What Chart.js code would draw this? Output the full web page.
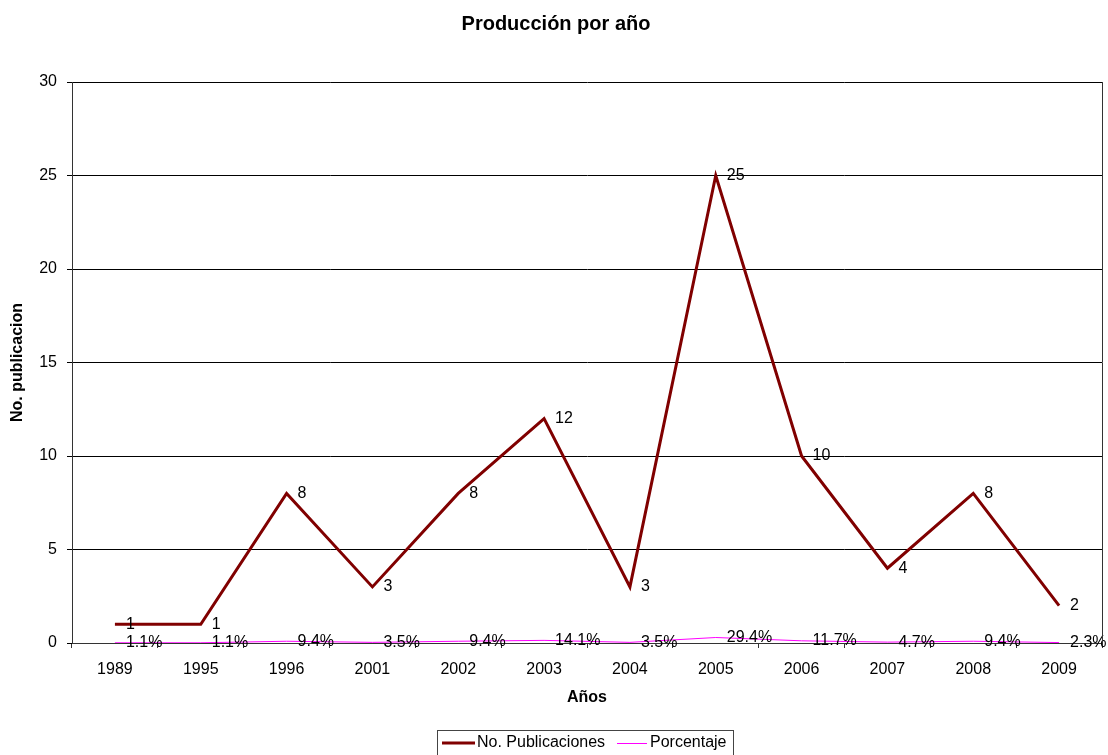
<!DOCTYPE html>
<html>
<head>
<meta charset="utf-8">
<title>Producción por año</title>
<script src="https://cdn.jsdelivr.net/npm/chart.js@4.4.1/dist/chart.umd.min.js"></script>
<style>
  html, body { margin: 0; padding: 0; background: #fff; }
  #wrap { width: 1108px; height: 755px; position: relative; }
</style>
</head>
<body>
<div id="wrap"><canvas id="grafico"></canvas></div>
<script>
// datos
const years = ['1989', '1995', '1996', '2001', '2002', '2003', '2004', '2005', '2006', '2007', '2008', '2009'];
const publicaciones = [1, 1, 8, 3, 8, 12, 3, 25, 10, 4, 8, 2];
const porcentaje = [0.011, 0.011, 0.094, 0.035, 0.094, 0.141, 0.035, 0.294, 0.117, 0.047, 0.094, 0.023];
const yTicks = [0, 5, 10, 15, 20, 25, 30];

const FONT = "'Liberation Sans', Arial, sans-serif";
const RED = '#800000';
const MAGENTA = '#ff00ff';

// etiquetas de datos a la derecha de cada punto
const dataLabels = {
    id: 'dataLabels',
    afterDatasetsDraw(chart) {
        const ctx = chart.ctx;
        ctx.save();
        ctx.font = '16px ' + FONT;
        ctx.fillStyle = '#000';
        ctx.textAlign = 'left';
        ctx.textBaseline = 'middle';
        chart.data.datasets.forEach((ds, i) => {
            const meta = chart.getDatasetMeta(i);
            meta.data.forEach((pt, j) => {
                const v = ds.data[j];
                const txt = i === 0 ? String(v) : (v * 100).toFixed(1) + '%';
                ctx.fillText(txt, pt.x + 11, pt.y);
            });
        });
        ctx.restore();
    }
};

// título, borde derecho y leyenda al estilo Excel
const decor = {
    id: 'decor',
    afterDraw(chart) {
        const ctx = chart.ctx;
        const area = chart.chartArea;
        ctx.save();
        ctx.strokeStyle = '#333';
        ctx.lineWidth = 1;
        ctx.beginPath();
        ctx.moveTo(Math.round(area.right) + 0.5, area.top);
        ctx.lineTo(Math.round(area.right) + 0.5, area.bottom);
        ctx.stroke();

        ctx.fillStyle = '#000';
        ctx.font = 'bold 20px ' + FONT;
        ctx.textAlign = 'center';
        ctx.textBaseline = 'middle';
        ctx.fillText('Producción por año', 556, 24);

        // leyenda
        ctx.strokeStyle = '#444';
        ctx.strokeRect(437.5, 730.5, 296, 30);
        ctx.font = '16px ' + FONT;
        ctx.textAlign = 'left';
        const ly = 743;
        ctx.strokeStyle = RED;
        ctx.lineWidth = 3;
        ctx.beginPath(); ctx.moveTo(442, ly); ctx.lineTo(475, ly); ctx.stroke();
        ctx.fillText('No. Publicaciones', 477, ly);
        ctx.strokeStyle = MAGENTA;
        ctx.lineWidth = 1;
        ctx.beginPath(); ctx.moveTo(617, ly + 0.5); ctx.lineTo(647, ly + 0.5); ctx.stroke();
        ctx.fillText('Porcentaje', 650, ly);
        ctx.restore();
    }
};

new Chart(document.getElementById('grafico'), {
    type: 'line',
    data: {
        labels: years,
        datasets: [{
            label: 'No. Publicaciones',
            data: publicaciones,
            borderColor: RED,
            backgroundColor: RED,
            borderWidth: 3,
            pointRadius: 0,
            tension: 0
        }, {
            label: 'Porcentaje',
            data: porcentaje,
            borderColor: MAGENTA,
            backgroundColor: MAGENTA,
            borderWidth: 1,
            pointRadius: 0,
            tension: 0
        }]
    },
    options: {
        responsive: true,
        maintainAspectRatio: false,
        animation: false,
        devicePixelRatio: 1,
        layout: { padding: { top: 82, right: 6, bottom: 48, left: 0 } },
        plugins: {
            legend: { display: false },
            title: { display: false },
            tooltip: { enabled: false }
        },
        scales: {
            x: {
                type: 'category',
                offset: true,
                z: 1,
                afterFit(scale) { scale.height = 64; },
                grid: { drawOnChartArea: false, offset: true, tickLength: 5, color: '#333' },
                border: { color: '#333', width: 1 },
                ticks: { color: '#000', font: { family: FONT, size: 16 }, padding: 12, maxRotation: 0 },
                title: {
                    display: true, text: 'Años', color: '#000',
                    font: { family: FONT, size: 16, weight: 'bold' },
                    padding: { top: 0, bottom: 0 }
                }
            },
            y: {
                min: 0,
                max: 30,
                afterFit(scale) { scale.width = 72; },
                afterBuildTicks(scale) { scale.ticks = yTicks.map(v => ({ value: v })); },
                grid: { color: '#000', tickLength: 5 },
                border: { color: '#333', width: 1 },
                ticks: { color: '#000', font: { family: FONT, size: 16 }, padding: 10 },
                title: {
                    display: true, text: 'No. publicacion', color: '#000',
                    font: { family: FONT, size: 16, weight: 'bold' },
                    padding: { top: 8, bottom: 0 }
                }
            }
        }
    },
    plugins: [dataLabels, decor]
});
</script>
</body>
</html>
